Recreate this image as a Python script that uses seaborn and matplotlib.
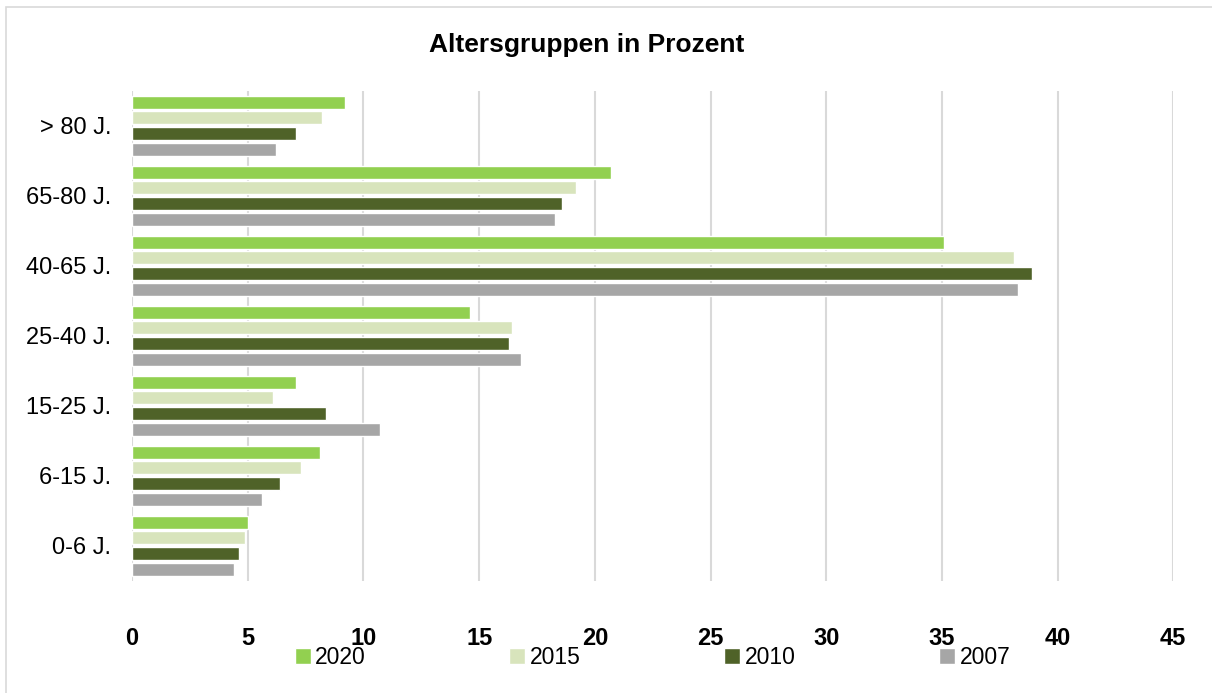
import pandas as pd
import seaborn as sns
import matplotlib.pyplot as plt
from matplotlib.patches import Rectangle

# --- data ---
age_groups = ['> 80 J.', '65-80 J.', '40-65 J.', '25-40 J.', '15-25 J.', '6-15 J.', '0-6 J.']
years = ['2020', '2015', '2010', '2007']
v2020 = [9.2, 20.7, 35.1, 14.6, 7.1, 8.1, 5.0]
v2015 = [8.2, 19.2, 38.1, 16.4, 6.1, 7.3, 4.9]
v2010 = [7.1, 18.6, 38.9, 16.3, 8.4, 6.4, 4.6]
v2007 = [6.2, 18.3, 38.3, 16.8, 10.7, 5.6, 4.4]
x_ticks = [0, 5, 10, 15, 20, 25, 30, 35, 40, 45]
colors = ['#92D050', '#D8E4BC', '#4F6228', '#A6A6A6']

df = pd.DataFrame({
    'Altersgruppe': age_groups * 4,
    'Jahr': [y for y in years for _ in age_groups],
    'Prozent': v2020 + v2015 + v2010 + v2007,
})

sns.set_style('white')
plt.rcParams['font.family'] = ['Liberation Sans', 'DejaVu Sans']
plt.rcParams['text.color'] = 'black'
plt.rcParams['xtick.color'] = 'black'
plt.rcParams['ytick.color'] = 'black'

fig = plt.figure(figsize=(12.12, 6.93), dpi=100)
ax = fig.add_axes([0.109, 0.162, 0.859, 0.707])

sns.barplot(
    data=df, y='Altersgruppe', x='Prozent', hue='Jahr',
    order=age_groups, hue_order=years, palette=colors,
    orient='h', width=0.9, gap=0.18, saturation=1, ax=ax,
)

ax.set_xlim(0, 45)
ax.set_xticks(x_ticks)
ax.set_xticklabels([str(t) for t in x_ticks], fontsize=17, fontweight='bold')
ax.tick_params(axis='y', labelsize=17, length=0, pad=15)
ax.tick_params(axis='x', length=0, pad=33)
ax.set_xlabel('')
ax.set_ylabel('')
ax.grid(axis='x', color='#D9D9D9', linewidth=1.5)
ax.set_axisbelow(True)
for s in ax.spines.values():
    s.set_visible(False)

fig.text(587 / 1212, 1 - 45 / 693, 'Altersgruppen in Prozent',
         fontsize=19, fontweight='bold', ha='center', va='center')

leg = ax.legend(
    loc='center', bbox_to_anchor=(0.5, -0.157), ncol=4, frameon=False,
    fontsize=16.5, handlelength=0.7, handleheight=0.7, handletextpad=0.2,
    columnspacing=6.26,
)

# light chart-area border
fig.patches.append(Rectangle((6 / 1212, -0.05), 1.2, 1 - 7 / 693 + 0.05,
                             transform=fig.transFigure, fill=False,
                             edgecolor='#D9D9D9', linewidth=1.2))

plt.savefig('out.png', dpi=100)
